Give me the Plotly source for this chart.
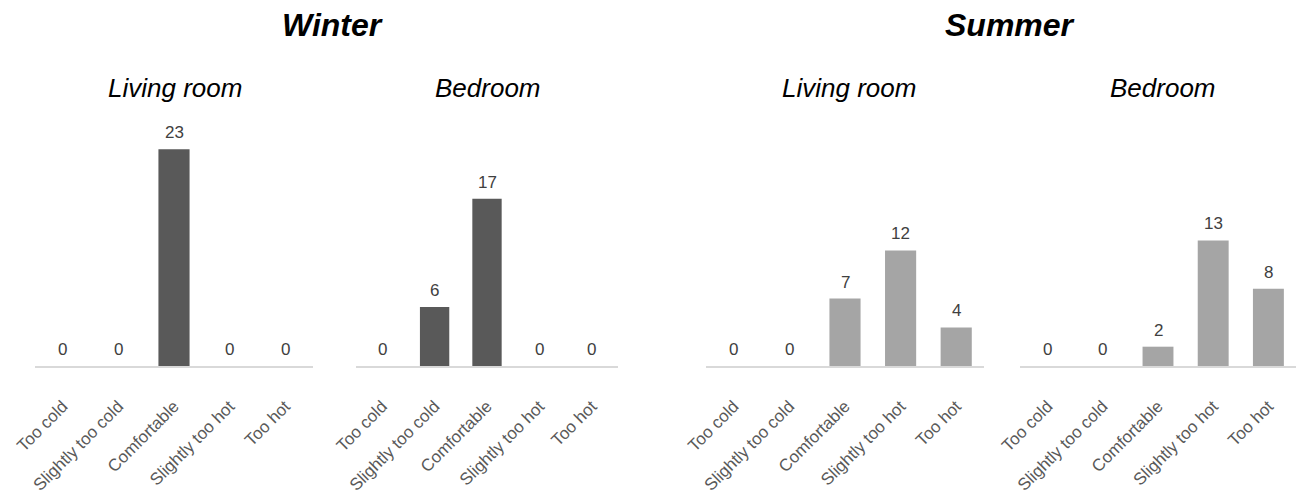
import plotly.graph_objects as go

categories = ["Too cold", "Slightly too cold", "Comfortable", "Slightly too hot", "Too hot"]
winter_living = [0, 0, 23, 0, 0]
winter_bedroom = [0, 6, 17, 0, 0]
summer_living = [0, 0, 7, 12, 4]
summer_bedroom = [0, 0, 2, 13, 8]
season_titles = ["Winter", "Summer"]
room_titles = ["Living room", "Bedroom", "Living room", "Bedroom"]

W, H = 1296, 498
FONT = "Liberation Sans, Arial, sans-serif"
WINTER_C = "#595959"
SUMMER_C = "#a5a5a5"

panels = [
    (winter_living, WINTER_C, (35, 313), 38.85),
    (winter_bedroom, WINTER_C, (356, 618), 37.2),
    (summer_living, SUMMER_C, (706, 984), 38.0),
    (summer_bedroom, SUMMER_C, (1020, 1296), 37.9),
]

fig = go.Figure()
layout = {}
annotations = []
for i, (vals, col, (x0, x1), yr) in enumerate(panels, start=1):
    xa = "x" if i == 1 else f"x{i}"
    ya = "y" if i == 1 else f"y{i}"
    fig.add_trace(go.Bar(
        x=categories, y=vals, xaxis=xa, yaxis=ya,
        marker=dict(color=col, line=dict(width=0)),
        width=0.56,
        cliponaxis=False, showlegend=False, hoverinfo="x+y",
    ))
    for c, v in zip(categories, vals):
        annotations.append(dict(
            x=c, y=v, xref=xa, yref=ya, text=str(v), showarrow=False,
            xanchor="center", yanchor="bottom", yshift=5,
            font=dict(family=FONT, size=17, color="#404040"),
        ))
    layout[f"xaxis{'' if i == 1 else i}"] = dict(
        domain=[x0 / W, x1 / W], anchor=ya, showgrid=False, zeroline=False,
        showline=True, linecolor="#d9d9d9", linewidth=1.5, ticks="",
        tickangle=-45, tickfont=dict(family=FONT, size=17, color="#595959"),
        ticklabelstandoff=22, fixedrange=True,
    )
    layout[f"yaxis{'' if i == 1 else i}"] = dict(
        domain=[0, 1], anchor=xa, range=[0, yr], visible=False, fixedrange=True,
    )

plot_h = 366
def py(pix):
    return (plot_h - pix) / plot_h

for t, xc in zip(season_titles, [332, 1010]):
    annotations.append(dict(
        text=f"<b><i>{t}</i></b>", x=xc / W, y=py(25), xref="paper", yref="paper",
        showarrow=False, xanchor="center", yanchor="middle",
        font=dict(family=FONT, size=32, color="#000000"),
    ))
for t, xc in zip(room_titles, [175, 488, 849, 1163]):
    annotations.append(dict(
        text=f"<i>{t}</i>", x=xc / W, y=py(88), xref="paper", yref="paper",
        showarrow=False, xanchor="center", yanchor="middle",
        font=dict(family=FONT, size=26, color="#000000"),
    ))

fig.update_layout(
    width=W, height=H,
    margin=dict(l=0, r=0, t=0, b=H - plot_h, autoexpand=False),
    paper_bgcolor="white", plot_bgcolor="white",
    bargap=0.45, annotations=annotations,
    **layout,
)

fig.write_html("out.html", config={"displayModeBar": False})
